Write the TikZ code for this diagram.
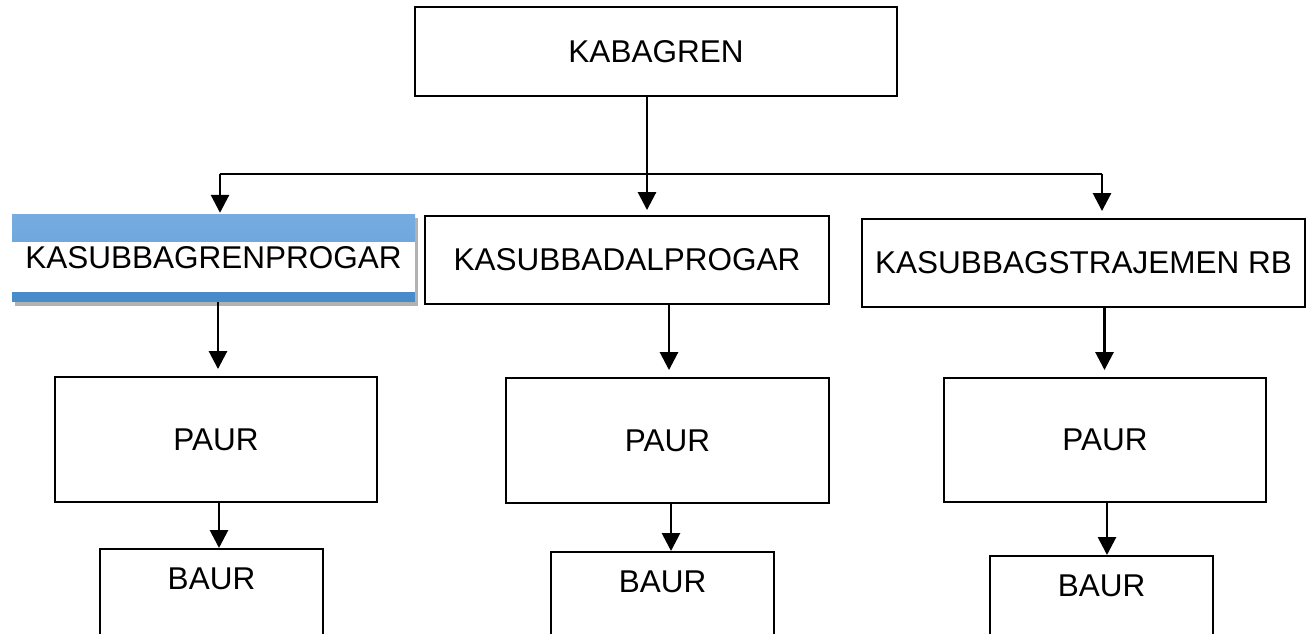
\documentclass[tikz,border=0pt]{standalone}
\usepackage{fontspec}
\setmainfont{Liberation Sans}
\usetikzlibrary{arrows.meta,shadows,calc}
\definecolor{bandTopA}{RGB}{118,172,224}
\definecolor{bandTopB}{RGB}{98,157,216}
\definecolor{bandBot}{RGB}{72,139,203}
\tikzset{
  box/.style={draw=black, line width=1.9pt, inner sep=0pt, fill=white,
    font=\fontsize{31.5}{38}\selectfont},
  baurbox/.style={box, anchor=north, minimum width=223pt, inner ysep=0pt,
    text height=40.5pt, text depth=70pt},
  arr/.style={line width=2.8pt, -{Triangle[width=18pt,length=18pt]}},
  thinline/.style={line width=1.1pt},
  hline/.style={line width=1.4pt},
}
\begin{document}
\begin{tikzpicture}[x=1pt,y=-1pt]
\useasboundingbox (0,0) rectangle (1311,633);
\clip (0,0) rectangle (1311,633);
% top
\node[box, minimum width=482pt, minimum height=89pt] (top) at (656,51.5) {KABAGREN};
% second level
\node[inner sep=0pt, fill=white, minimum width=403pt, minimum height=88pt,
  font=\fontsize{31.5}{38}\selectfont,
  drop shadow={shadow xshift=3pt, shadow yshift=-4pt, opacity=0.3, fill=black},
  path picture={
    \shade[top color=bandTopA, bottom color=bandTopB]
      (path picture bounding box.north west) rectangle
      ([yshift=-27pt]path picture bounding box.north east);
    \fill[bandBot] ([yshift=10pt]path picture bounding box.south west) rectangle
      (path picture bounding box.south east);
  }] (kL) at (213.5,258) {KASUBBAGRENPROGAR};
\node[box, minimum width=404pt, minimum height=88pt] (kM) at (627,260) {KASUBBADALPROGAR};
\node[box, minimum width=443pt, minimum height=88pt] (kR) at (1083.5,263) {KASUBBAGSTRAJEMEN RB};
% third level
\node[box, minimum width=322pt, minimum height=125pt] (pL) at (216,439.5) {PAUR};
\node[box, minimum width=323pt, minimum height=125pt] (pM) at (667.5,440.5) {PAUR};
\node[box, minimum width=322pt, minimum height=124pt] (pR) at (1105,440) {PAUR};
% fourth level
\node[baurbox] (bL) at (211.5,548) {BAUR};
\node[baurbox] (bM) at (662.5,551) {BAUR};
\node[baurbox] (bR) at (1101.5,555) {BAUR};
% connectors
\coordinate (t1) at (647,123);
\coordinate (jL) at (220,174);
\coordinate (jR) at (1102,174);
\draw[thinline] (top.south -| t1) -- (t1);
\draw[arr, shorten >=5pt] (t1) -- (t1 |- kM.north);
\draw[hline] (jL) -- (jR);
\draw[arr, shorten >=1pt] (jL) -- (jL |- kL.north);
\draw[arr, shorten >=7pt] (jR) -- (jR |- kR.north);
\draw[arr, shorten >=7pt] ([xshift=4.5pt]kL.south) -- ([xshift=4.5pt]kL.south |- pL.north);
\draw[arr, shorten >=7pt] ([xshift=42pt]kM.south) -- ([xshift=42pt]kM.south |- pM.north);
\draw[arr, shorten >=7pt] ([xshift=21pt]kR.south) -- ([xshift=21pt]kR.south |- pR.north);
\draw[arr] ([xshift=3pt]pL.south) -- ([xshift=3pt]pL.south |- bL.north);
\draw[arr] ([xshift=3.5pt]pM.south) -- ([xshift=3.5pt]pM.south |- bM.north);
\draw[arr] ([xshift=2pt]pR.south) -- ([xshift=2pt]pR.south |- bR.north);
\end{tikzpicture}
\end{document}
